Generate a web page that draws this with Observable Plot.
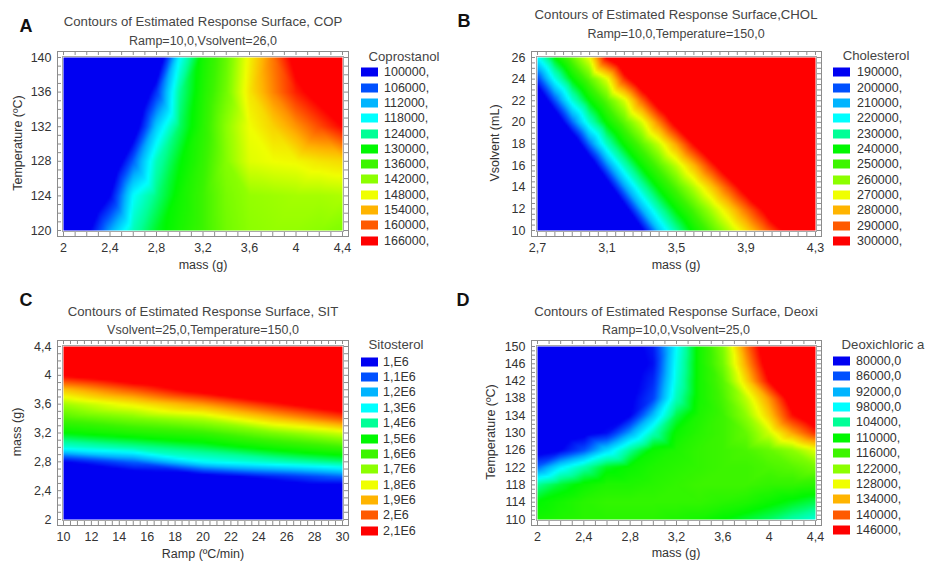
<!DOCTYPE html>
<html><head><meta charset="utf-8">
<script src="https://cdn.jsdelivr.net/npm/d3@7"></script>
<script src="https://cdn.jsdelivr.net/npm/@observablehq/plot@0.6"></script>
<style>
html,body{margin:0;padding:0;background:#fff;}
#root{position:relative;width:926px;height:561px;overflow:hidden;font-family:"Liberation Sans",Arial,sans-serif;color:#333;}
.t{position:absolute;white-space:nowrap;transform:translate(-50%,-50%);line-height:1;font-size:12.5px;}
.lt{position:absolute;white-space:nowrap;transform:translate(0,-50%);line-height:1;font-size:12.5px;color:#333;}
.sw{position:absolute;width:17px;height:9px;transform:translate(0,-50%);}
.letter{position:absolute;transform:translate(-50%,-50%);font-weight:bold;font-size:18px;color:#111;line-height:1;}
.pw{position:absolute;}
</style></head><body><div id="root"></div>
<script>
// ---------- shared colour levels ----------
const rainbow = ["#0000f2","#0050ff","#00b4ff","#00ffff","#00ff96","#00f800","#3cf500","#8cff00","#f0ff00","#ffb400","#ff5a00","#ff0000"];

// ---------- Panel A: Coprostanol (values in thousands) ----------
const copMass = [2.0,2.2,2.4,2.6,2.8,3.0,3.2,3.4,3.6,3.8,4.0,4.2,4.4];
const copTemp = [120,124,128,132,136,140];
const copZ = [
  [86,98,111,122,128.5,132.5,136,140,142,142.5,142.5,142,141],
  [80,90,100,118,125,131.5,136,140.5,142.5,143,143.5,143.5,144],
  [76,84,92,107,122,129.5,135,141.5,147,148,148.5,150,151],
  [72,79,86,95,114,126,134,142,148,151.5,156,161,166],
  [68,74,80,88,104,124,133,140,150,157,164,169,173],
  [64,70,76,83,92,118,132,139,149,158,169,174,178]
];
const copLevels = [100,106,112,118,124,130,136,142,148,154,160,166];
const copLabels = ["100000,","106000,","112000,","118000,","124000,","130000,","136000,","142000,","148000,","154000,","160000,","166000,"];
const copXTicks = [2,2.4,2.8,3.2,3.6,4,4.4];
const copYTicks = [120,124,128,132,136,140];

// ---------- Panel B: Cholesterol (values in thousands) ----------
const cholMass = [2.7,2.8,2.9,3.0,3.1,3.2,3.3,3.4,3.5,3.6,3.7,3.8,3.9,4.0,4.1,4.2,4.3];
const cholVsol = [10,12,14,16,18,20,22,24,26];
const cholZ = [
  [37.5,62.5,87.5,112.5,137.5,162.5,187.5,212.5,229.3,242.1,252.9,263.6,274.8,286.8,298.8,313.5,328.5],
  [60,85,110,135,160,185,210,228,241.1,252.2,263.3,275.2,288.3,301.5,316.5,331.5,346.5],
  [82.5,107.5,132.5,157.5,182.5,207.5,227.1,241.2,252.7,264.2,277.1,291.4,306,321,336,351,366],
  [105,130,155,180,205,226.2,241.2,253.2,265.2,279.5,295.3,310.5,325.5,340.5,355.5,370.5,385.5],
  [127.5,152.5,177.5,203.6,226.2,241.3,253.8,266.3,282.4,300,315,330,345,360,375,390,405],
  [152.5,177.5,202.5,225,241.3,254.3,267.4,286,304.5,319.5,334.5,349.5,364.5,379.5,394.5,409.5,424.5],
  [175,200,223.3,240,253.6,267.3,288.5,307.5,322.5,337.5,352.5,367.5,382.5,397.5,412.5,427.5,442.5],
  [197.5,221.8,240,254.3,268.6,294.5,312,327,342,357,372,387,402,417,432,447,462],
  [220,240,255,270,301.5,316.5,331.5,346.5,361.5,376.5,391.5,406.5,421.5,436.5,451.5,466.5,481.5]
];
const cholLevels = [190,200,210,220,230,240,250,260,270,280,290,300];
const cholLabels = ["190000,","200000,","210000,","220000,","230000,","240000,","250000,","260000,","270000,","280000,","290000,","300000,"];
const cholXTicks = [2.7,3.1,3.5,3.9,4.3];
const cholYTicks = [10,12,14,16,18,20,22,24,26];

// ---------- Panel C: Sitosterol (values in millions) ----------
const sitRamp = [10,15,20,25,30];
const sitMass = [2.0,2.2,2.4,2.6,2.8,3.0,3.2,3.4,3.6,3.8,4.0,4.2,4.4];
const sitZ = [
  [0.6,0.62,0.65,0.68,0.7],
  [0.7,0.72,0.75,0.78,0.8],
  [0.8,0.82,0.85,0.88,0.9],
  [0.9,0.93,0.96,1.05,1.13],
  [1.0,1.12,1.3,1.36,1.42],
  [1.33,1.39,1.45,1.53,1.6],
  [1.5,1.55,1.59,1.68,1.77],
  [1.62,1.68,1.74,1.88,2.01],
  [1.72,1.82,1.93,2.07,2.2],
  [1.88,2.01,2.15,2.25,2.35],
  [2.11,2.21,2.3,2.4,2.5],
  [2.3,2.38,2.45,2.55,2.65],
  [2.45,2.52,2.6,2.7,2.8]
];
const sitLevels = [1.0,1.1,1.2,1.3,1.4,1.5,1.6,1.7,1.8,1.9,2.0,2.1];
const sitLabels = ["1,E6","1,1E6","1,2E6","1,3E6","1,4E6","1,5E6","1,6E6","1,7E6","1,8E6","1,9E6","2,E6","2,1E6"];
const sitXTicks = [10,12,14,16,18,20,22,24,26,28,30];
const sitYTicks = [2,2.4,2.8,3.2,3.6,4,4.4];

// ---------- Panel D: Deoxicholic acid (values in thousands) ----------
const deoxMass = [2.0,2.2,2.4,2.6,2.8,3.0,3.2,3.4,3.6,3.8,4.0,4.2,4.4];
const deoxTemp = [110,114,118,122,126,130,134,138,142,146,150];
const deoxZ = [
  [112,113,114,114,114,114,113,112,110,108,106,103,100],
  [110,112,114,115,115,115,115,115,114,113,111,109,107],
  [104,108,111,113,113,114,115,116,116,116,115,115,114],
  [88,97,103,109,111,113,114,115,116,116,117,118,120],
  [77,80,86,95,104,111,113,115,116,117,119,122,127],
  [74,76,78,81,91,102,111,114,116,119,126,135,143],
  [73,74,76,78,80,93,107,113,116,122,132,145,152],
  [72,73,75,77,79,85,102,112,117,125,136,150,158],
  [71,72,74,76,78,83,100,112,118,131,146,155,161],
  [70,71,73,75,77,81,99,112,120,135,150,158,164],
  [70,72,74,76,78,82,98,112,121,138,152,160,166]
];
const deoxLevels = [80,86,92,98,104,110,116,122,128,134,140,146];
const deoxLabels = ["80000,0","86000,0","92000,0","98000,0","104000,","110000,","116000,","122000,","128000,","134000,","140000,","146000,"];
const deoxXTicks = [2,2.4,2.8,3.2,3.6,4,4.4];
const deoxYTicks = [110,114,118,122,126,130,134,138,142,146,150];

// ---------- helpers ----------
const root = document.getElementById("root");
const fmt = d => String(+(+d).toFixed(2)).replace(".", ",");
const steps = (a, b, s) => d3.range(0, Math.round((b - a) / s) + 1).map(i => +(a + i * s).toFixed(4));

function addText(cls, txt, x, y, extra) {
  const el = document.createElement("div");
  el.className = cls;
  el.textContent = txt;
  el.style.left = x + "px";
  el.style.top = y + "px";
  if (extra) Object.assign(el.style, extra);
  root.appendChild(el);
  return el;
}

function panel(cfg) {
  const pts = [];
  cfg.ys.forEach((y, i) => cfg.xs.forEach((x, j) => pts.push({x, y, v: cfg.z[i][j]})));
  const xd = [cfg.xs[0], cfg.xs[cfg.xs.length - 1]];
  const yd = [cfg.ys[0], cfg.ys[cfg.ys.length - 1]];
  const fw = cfg.w - cfg.ml - cfg.mr, fh = cfg.h - cfg.mt - cfg.mb;
  const tc = "#8c8c8c", tl = 4;
  const plot = Plot.plot({
    width: cfg.w, height: cfg.h,
    marginLeft: cfg.ml, marginRight: cfg.mr, marginTop: cfg.mt, marginBottom: cfg.mb,
    x: {domain: xd, inset: 6, label: null},
    y: {domain: yd, inset: 6, label: null},
    color: {type: "linear", domain: cfg.levels, range: rainbow, clamp: true, interpolate: "rgb"},
    style: {fontFamily: "'Liberation Sans', Arial, sans-serif", fontSize: "12.5px", color: "#333", background: "transparent", overflow: "visible"},
    marks: [
      Plot.raster(pts, {x: "x", y: "y", fill: "v", interpolate: "barycentric", pixelSize: 2,
                        x1: xd[0], x2: xd[1], y1: yd[0], y2: yd[1]}),
      Plot.frame({stroke: "#8c8c8c"}),
      Plot.frame({stroke: "#a8a8a8", inset: 5}),
      Plot.tickX(cfg.xMinor, {x: d => d, insetTop: fh - tl, stroke: tc}),
      Plot.tickX(cfg.xMinor, {x: d => d, insetBottom: fh - tl, stroke: tc}),
      Plot.tickY(cfg.yMinor, {y: d => d, insetRight: fw - tl, stroke: tc}),
      Plot.tickY(cfg.yMinor, {y: d => d, insetLeft: fw - tl, stroke: tc}),
      Plot.axisX({ticks: cfg.xTicks, anchor: "bottom", tickSize: 0, tickPadding: 7, tickFormat: fmt, fill: "#333", fontSize: 12.5}),
      Plot.axisY({ticks: cfg.yTicks, anchor: "left", tickSize: 0, tickPadding: 6, tickFormat: fmt, fill: "#333", fontSize: 12.5})
    ]
  });
  const wrap = document.createElement("div");
  wrap.className = "pw";
  wrap.style.left = cfg.left + "px";
  wrap.style.top = cfg.top + "px";
  wrap.appendChild(plot);
  root.appendChild(wrap);

  addText("letter", cfg.letter, cfg.letterX, cfg.letterY);
  addText("t", cfg.title1, cfg.titleX, cfg.title1Y, {color: "#444", fontSize: "13.2px"});
  addText("t", cfg.title2, cfg.titleX, cfg.title2Y, {color: "#444"});
  addText("t", cfg.xLabel, cfg.xLabelX, cfg.xLabelY);
  addText("t", cfg.yLabel, cfg.yLabelX, cfg.yLabelY, {transform: "translate(-50%,-50%) rotate(-90deg)"});

  const sc = plot.scale("color");
  addText("t", cfg.legendTitle, cfg.legTitleX, cfg.legTitleY, {color: "#444", fontSize: "13.2px"});
  cfg.levels.forEach((lv, i) => {
    const y = cfg.legY0 + i * cfg.legDy;
    const sw = document.createElement("div");
    sw.className = "sw";
    sw.style.left = cfg.legSwX + "px";
    sw.style.top = y + "px";
    sw.style.background = sc.apply(lv);
    root.appendChild(sw);
    addText("lt", cfg.labels[i], cfg.legLabX, y);
  });
}

panel({
  xs: copMass, ys: copTemp, z: copZ, levels: copLevels, labels: copLabels,
  xTicks: copXTicks, yTicks: copYTicks, xMinor: steps(2, 4.4, 0.1), yMinor: steps(120, 140, 1),
  left: 0, top: 0, w: 463, h: 280, ml: 57, mr: 115, mt: 51, mb: 44,
  letter: "A", letterX: 26, letterY: 26,
  title1: "Contours of Estimated Response Surface, COP", title2: "Ramp=10,0,Vsolvent=26,0", titleX: 203, title1Y: 22, title2Y: 41,
  xLabel: "mass (g)", xLabelX: 203, xLabelY: 265, yLabel: "Temperature (ºC)", yLabelX: 18, yLabelY: 143,
  legendTitle: "Coprostanol", legTitleX: 404, legTitleY: 57, legSwX: 361, legLabX: 384, legY0: 72.3, legDy: 15.31
});
panel({
  xs: cholMass, ys: cholVsol, z: cholZ, levels: cholLevels, labels: cholLabels,
  xTicks: cholXTicks, yTicks: cholYTicks, xMinor: steps(2.7, 4.3, 0.05), yMinor: steps(10, 26, 0.5),
  left: 463, top: 0, w: 463, h: 280, ml: 68, mr: 105, mt: 51, mb: 44,
  letter: "B", letterX: 464, letterY: 21,
  title1: "Contours of Estimated Response Surface,CHOL", title2: "Ramp=10,0,Temperature=150,0", titleX: 676, title1Y: 15, title2Y: 34,
  xLabel: "mass (g)", xLabelX: 676, xLabelY: 265, yLabel: "Vsolvent (mL)", yLabelX: 495, yLabelY: 143,
  legendTitle: "Cholesterol", legTitleX: 876, legTitleY: 56, legSwX: 833, legLabX: 857, legY0: 72.3, legDy: 15.34
});
panel({
  xs: sitRamp, ys: sitMass, z: sitZ, levels: sitLevels, labels: sitLabels,
  xTicks: sitXTicks, yTicks: sitYTicks, xMinor: steps(10, 30, 0.5), yMinor: steps(2, 4.4, 0.1),
  left: 0, top: 280, w: 463, h: 281, ml: 57, mr: 115, mt: 60, mb: 36,
  letter: "C", letterX: 26, letterY: 300,
  title1: "Contours of Estimated Response Surface, SIT", title2: "Vsolvent=25,0,Temperature=150,0", titleX: 203, title1Y: 312, title2Y: 330,
  xLabel: "Ramp (ºC/min)", xLabelX: 203, xLabelY: 554, yLabel: "mass (g)", yLabelX: 17, yLabelY: 432,
  legendTitle: "Sitosterol", legTitleX: 396, legTitleY: 345, legSwX: 361, legLabX: 383, legY0: 361.7, legDy: 15.36
});
panel({
  xs: deoxMass, ys: deoxTemp, z: deoxZ, levels: deoxLevels, labels: deoxLabels,
  xTicks: deoxXTicks, yTicks: deoxYTicks, xMinor: steps(2, 4.4, 0.1), yMinor: steps(110, 150, 1),
  left: 463, top: 280, w: 463, h: 281, ml: 68, mr: 105, mt: 60, mb: 36,
  letter: "D", letterX: 463, letterY: 300,
  title1: "Contours of Estimated Response Surface, Deoxi", title2: "Ramp=10,0,Vsolvent=25,0", titleX: 676, title1Y: 312, title2Y: 330,
  xLabel: "mass (g)", xLabelX: 676, xLabelY: 553, yLabel: "Temperature (ºC)", yLabelX: 491, yLabelY: 432,
  legendTitle: "Deoxichloric a", legTitleX: 883, legTitleY: 345, legSwX: 833, legLabX: 856, legY0: 361, legDy: 15.36
});
</script></body></html>
